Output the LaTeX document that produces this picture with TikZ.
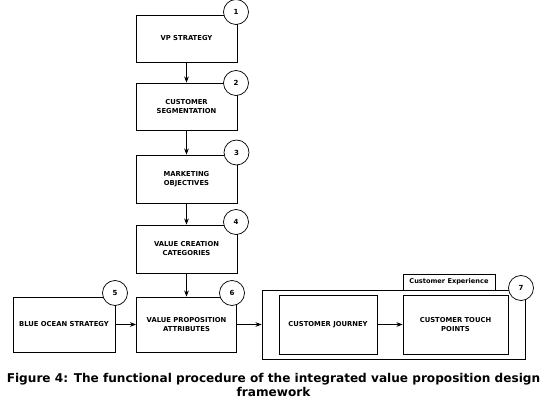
\documentclass[tikz,border=0pt]{standalone}
\usepackage{fontspec}
\setsansfont{DejaVu Sans}
\usetikzlibrary{arrows.meta}

\tikzset{
  stepbox/.style={draw, inner sep=1pt, align=center, minimum width=101pt,
    font=\sffamily\bfseries\fontsize{6.8}{9}\selectfont},
  numcircle/.style={circle, draw, fill=white, inner sep=0pt, minimum size=25pt,
    font=\sffamily\bfseries\fontsize{7}{8}\selectfont},
}

\begin{document}
\begin{tikzpicture}[x=1pt,y=-1pt,line width=0.7pt,>=Stealth]
\useasboundingbox (0,0) rectangle (547,401);
% ---------- main column ----------
\node[stepbox, minimum height=47pt] (strategy) at (186.5,38.5) {VP STRATEGY};
\node[stepbox, minimum height=47pt] (segment) at (186.5,106.5) {CUSTOMER\\SEGMENTATION};
\node[stepbox, minimum height=48pt] (objectives) at (186.5,179) {MARKETING\\OBJECTIVES};
\node[stepbox, minimum height=48pt] (creation) at (186.5,249) {VALUE CREATION\\CATEGORIES};
\node[stepbox, minimum height=55pt, minimum width=100pt] (attributes) at (186.5,324.5) {VALUE PROPOSITION\\ATTRIBUTES};
% ---------- left: blue ocean ----------
\node[stepbox, minimum height=55pt, minimum width=102pt] (ocean) at (64,324.5) {BLUE OCEAN STRATEGY};
% ---------- right: customer experience ----------
\node[draw, minimum width=263pt, minimum height=69pt] (experience) at (393.5,324.5) {};
\node[stepbox, minimum height=59pt, minimum width=98pt] (journey) at (328,324.5) {CUSTOMER JOURNEY};
\node[stepbox, minimum height=59pt, minimum width=105pt] (touch) at (455.5,324.5) {CUSTOMER TOUCH\\POINTS};
\node[stepbox, minimum height=16pt, minimum width=92pt, font=\sffamily\bfseries\fontsize{6.6}{8}\selectfont] (tab) at (449,282) {Customer Experience};
% ---------- step numbers ----------
\node[numcircle] (n1) at (236,12) {1};
\node[numcircle] (n2) at (236,83) {2};
\node[numcircle] (n3) at (236.5,152.5) {3};
\node[numcircle] (n4) at (236,222) {4};
\node[numcircle] (n5) at (115,293) {5};
\node[numcircle] (n6) at (232,293) {6};
\node[numcircle] (n7) at (521,288) {7};
% ---------- arrows ----------
\draw[->] (strategy) -- (segment);
\draw[->] (segment) -- (objectives);
\draw[->] (objectives) -- (creation);
\draw[->] (creation) -- (attributes);
\draw[->] (ocean) -- (attributes);
\draw[->] (attributes) -- (experience);
\draw[->] (journey) -- (touch);
% ---------- caption ----------
\node[align=center, font=\sffamily\bfseries\fontsize{12.1}{14}\selectfont] (caption) at (273.5,384.5)
  {Figure 4: The functional procedure of the integrated value proposition design\\framework};
\end{tikzpicture}
\end{document}
